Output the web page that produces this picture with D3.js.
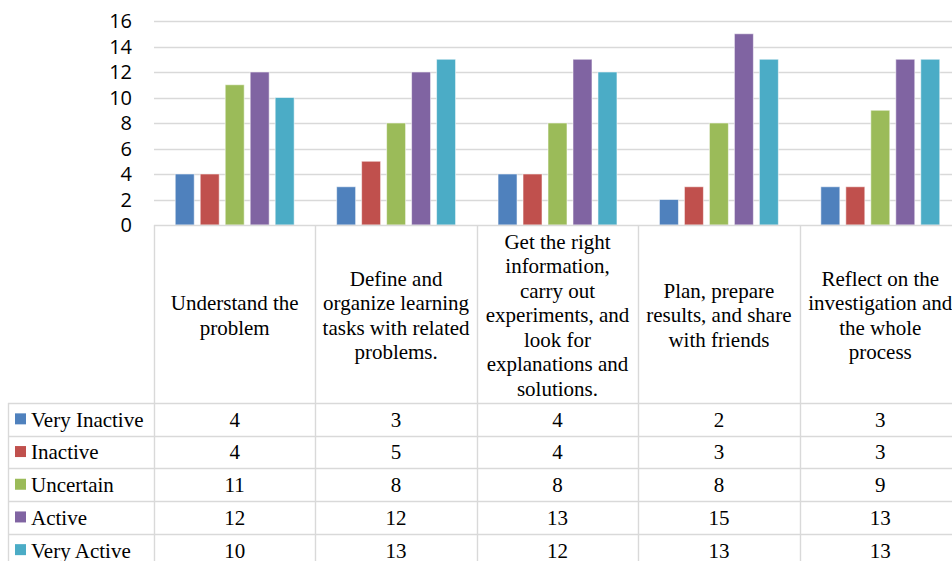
<html>
<head>
<script src="https://d3js.org/d3.v7.min.js"></script>
<style>
  body { margin: 0; background: #fff; }
  svg { display: block; }
  .tt { font-family: "Liberation Serif", "Times New Roman", Times, "DejaVu Serif", serif; font-size: 21px; fill: #000; }
  .yl { font-family: "Open Sans", sans-serif; font-size: 20px; fill: #000; }
</style>
</head>
<body>
<script>
// categories (header lines as wrapped in the table)
const categories = [
  ["Understand the", "problem"],
  ["Define and", "organize learning", "tasks with related", "problems."],
  ["Get the right", "information,", "carry out", "experiments, and", "look for", "explanations and", "solutions."],
  ["Plan, prepare", "results, and share", "with friends"],
  ["Reflect on the", "investigation and", "the whole", "process"]
];
const seriesNames = ["Very Inactive", "Inactive", "Uncertain", "Active", "Very Active"];
const veryInactive = [4, 3, 4, 2, 3];
const inactive     = [4, 5, 4, 3, 3];
const uncertain    = [11, 8, 8, 8, 9];
const active       = [12, 12, 13, 15, 13];
const veryActive   = [10, 13, 12, 13, 13];
const yTicks = [0, 2, 4, 6, 8, 10, 12, 14, 16];
const colors = ["#4F81BD", "#C0504D", "#9BBB59", "#8064A2", "#4BACC6"];

const seriesValues = [veryInactive, inactive, uncertain, active, veryActive];

const W = 952, H = 561;
const svg = d3.select("body").append("svg").attr("width", W).attr("height", H);

const plotLeft = 154, plotRight = 961, plotTop = 21, plotBottom = 225;
const tableLeft = 8;
const gridColor = "#d9d9d9";

const x = d3.scaleBand().domain(d3.range(categories.length)).range([plotLeft, plotRight]);
const xs = d3.scaleBand().domain(d3.range(seriesNames.length)).range([0, x.bandwidth()])
  .paddingInner(0.24).paddingOuter(0.85);
const y = d3.scaleLinear().domain([0, 16]).range([plotBottom, plotTop]);

// gridlines
svg.append("g").selectAll("line").data(yTicks.filter(d => d > 0)).join("line")
  .attr("x1", plotLeft).attr("x2", W)
  .attr("y1", d => Math.round(y(d)) + 0.5).attr("y2", d => Math.round(y(d)) + 0.5)
  .attr("stroke", gridColor).attr("stroke-width", 1.4);

// y labels
svg.append("g").selectAll("text").data(yTicks).join("text")
  .attr("class", "yl")
  .attr("x", 132).attr("y", d => y(d)).attr("dy", "0.36em")
  .attr("text-anchor", "end")
  .text(d => d);

// bars
const groups = svg.append("g").selectAll("g").data(seriesValues).join("g")
  .attr("fill", (d, i) => colors[i]);
groups.selectAll("rect").data((vals, si) => vals.map((v, ci) => ({v, ci, si}))).join("rect")
  .attr("x", d => x(d.ci) + xs(d.si))
  .attr("width", xs.bandwidth())
  .attr("y", d => y(d.v))
  .attr("height", d => y(0) - y(d.v))
  .attr("stroke", "#fff").attr("stroke-opacity", 0.55).attr("stroke-width", 1);

// table
const rowTop = 403, rowH = 32.7;
const rows = d3.scaleBand().domain(d3.range(seriesNames.length)).range([rowTop, rowTop + rowH * seriesNames.length]);
const tbl = svg.append("g");

// horizontal lines
tbl.append("line").attr("x1", plotLeft).attr("x2", W).attr("y1", plotBottom + 0.5).attr("y2", plotBottom + 0.5)
  .attr("stroke", gridColor).attr("stroke-width", 1.4);
tbl.selectAll("line.h").data(d3.range(seriesNames.length + 1)).join("line").attr("class", "h")
  .attr("x1", tableLeft).attr("x2", W)
  .attr("y1", d => Math.round(rowTop + d * rowH) + 0.5).attr("y2", d => Math.round(rowTop + d * rowH) + 0.5)
  .attr("stroke", gridColor).attr("stroke-width", 1.4);
// vertical lines
tbl.selectAll("line.v").data(d3.range(categories.length)).join("line").attr("class", "v")
  .attr("x1", d => Math.round(x(d)) + 0.5).attr("x2", d => Math.round(x(d)) + 0.5)
  .attr("y1", plotBottom).attr("y2", H)
  .attr("stroke", gridColor).attr("stroke-width", 1.4);
tbl.append("line").attr("x1", tableLeft + 0.5).attr("x2", tableLeft + 0.5).attr("y1", rowTop).attr("y2", H)
  .attr("stroke", gridColor).attr("stroke-width", 1.4);

const lineH = 24.5;
const headMid = (plotBottom + rowTop) / 2;

// header text
tbl.selectAll("text.head").data(categories).join("text").attr("class", "head tt")
  .attr("text-anchor", "middle")
  .each(function(lines, ci) {
    const t = d3.select(this);
    const y0 = headMid + 1 - (lines.length - 1) * lineH / 2;
    lines.forEach((ln, k) => {
      t.append("tspan").attr("x", x(ci) + x.bandwidth() / 2).attr("y", y0 + k * lineH)
        .attr("dy", "0.35em").text(ln);
    });
  });

// legend column
const leg = tbl.selectAll("g.leg").data(seriesNames).join("g").attr("class", "leg")
  .attr("transform", (d, i) => `translate(0,${rows(i) + rowH / 2})`);
leg.append("rect").attr("x", 15).attr("y", -6).attr("width", 11).attr("height", 11)
  .attr("fill", (d, i) => colors[i]);
leg.append("text").attr("class", "tt").attr("x", 31).attr("dy", "0.35em").text(d => d);

// values
seriesValues.forEach((vals, si) => {
  tbl.append("g").selectAll("text").data(vals).join("text")
    .attr("class", "tt")
    .attr("x", (d, ci) => x(ci) + x.bandwidth() / 2)
    .attr("y", rows(si) + rowH / 2).attr("dy", "0.35em")
    .attr("text-anchor", "middle")
    .text(d => d);
});
</script>
</body>
</html>
